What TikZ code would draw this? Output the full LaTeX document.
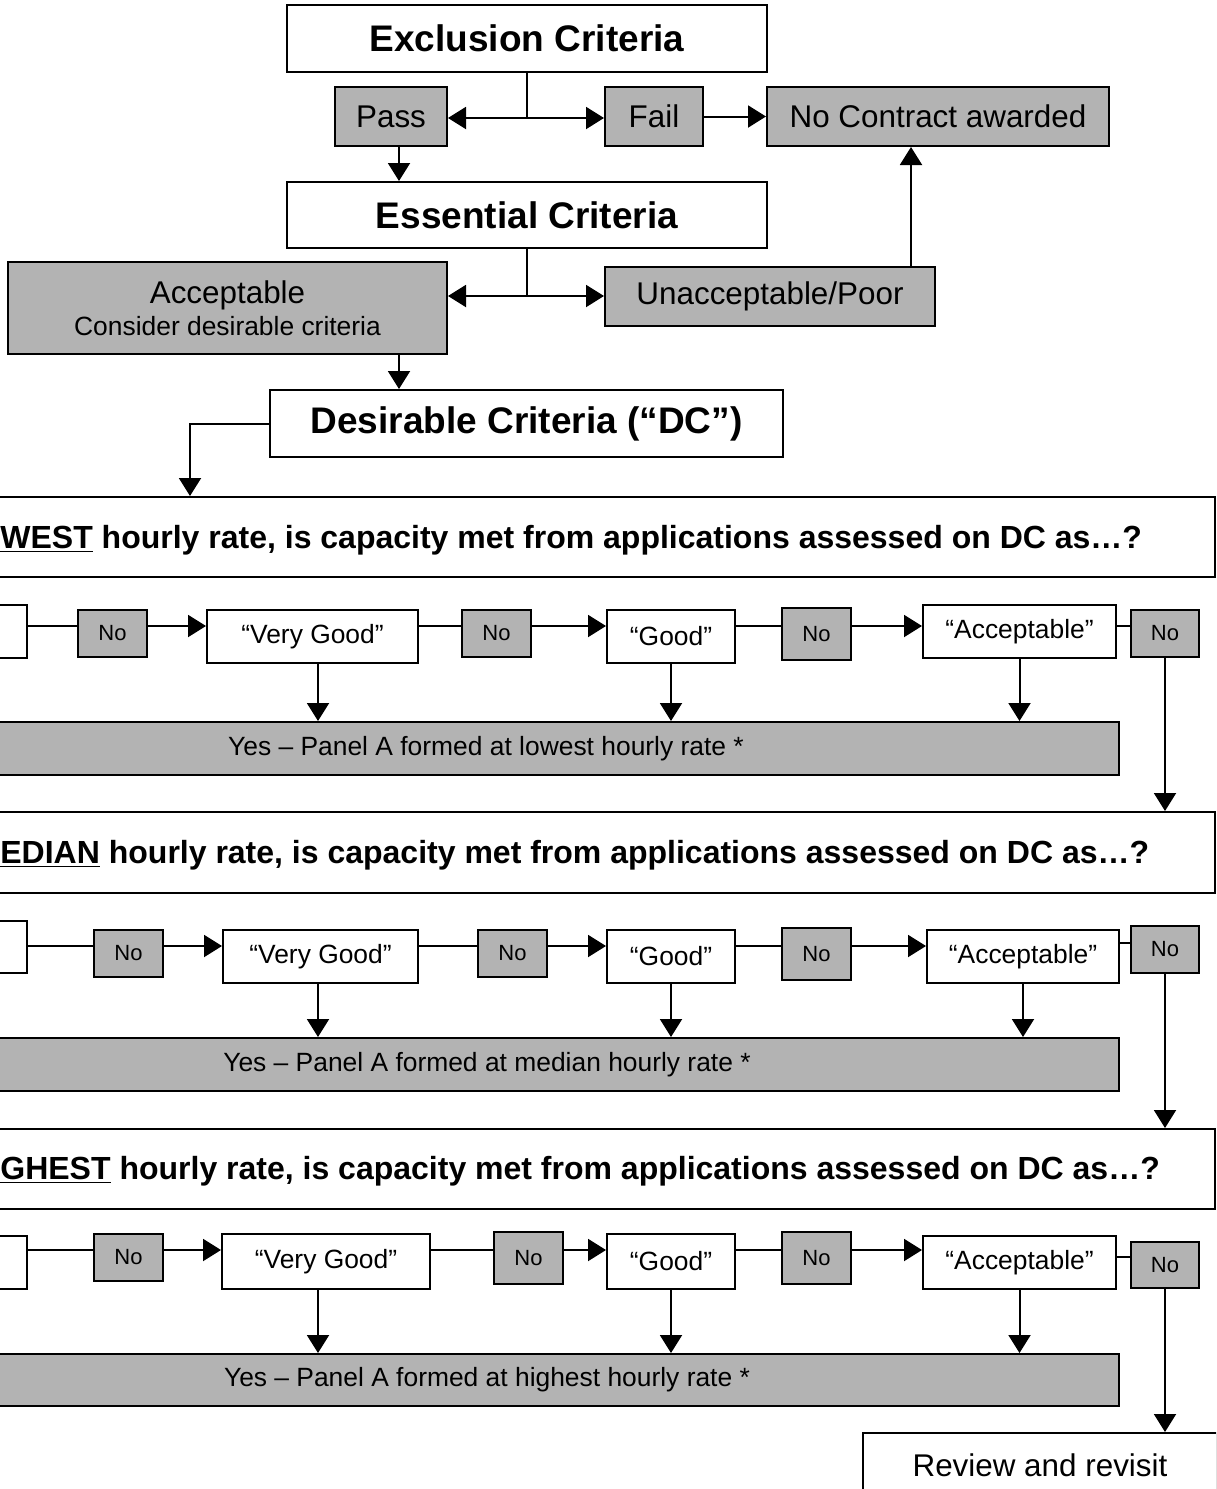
\documentclass[tikz,border=0pt]{standalone}
\usepackage{fontspec}
\setmainfont{Liberation Sans}
\usetikzlibrary{arrows.meta}
\definecolor{boxgray}{RGB}{179,179,179}
\tikzset{
  every node/.style={inner sep=0pt},
  wbox/.style={draw, line width=1pt, fill=white},
  gbox/.style={draw, line width=1pt, fill=boxgray},
  conn/.style={line width=1pt},
  arr/.style={line width=1pt, -{Triangle[length=9pt,width=11pt]}},
  big/.style={font=\fontsize{18.5}{22}\selectfont\bfseries},
  ques/.style={font=\fontsize{16}{19}\selectfont\bfseries},
  med/.style={font=\fontsize{15.7}{19}\selectfont},
  sml/.style={font=\fontsize{13.2}{16}\selectfont},
  nofont/.style={font=\fontsize{11}{13}\selectfont},
}
\newcommand\mybox[7]{\node[#1, minimum width={(#5-#3)*0.5pt}, minimum height={(#6-#4)*0.5pt}] (#2) at ({(#3+#5)/2},{(#4+#6)/2}) {#7};}
\begin{document}
\begin{tikzpicture}[x=0.5pt,y=-0.5pt]
\useasboundingbox (0,0) rectangle (1216,1489);
\clip (0,0) rectangle (1216,1489);
\fill[white] (0,0) rectangle (1216,1489);
% helper x-positions
\coordinate (x190) at (190,0);
\coordinate (x318) at (318,0);
\coordinate (x399) at (399,0);
\coordinate (x911) at (911,0);
% ---------- top part
\mybox{wbox,big}{ex}{287}{5}{767}{72}{Exclusion Criteria}
\mybox{gbox,med}{pass}{335}{87}{447}{146}{Pass}
\mybox{gbox,med}{fail}{605}{87}{703}{146}{Fail}
\mybox{gbox,med}{nca}{767}{87}{1109}{146}{No Contract awarded}
\mybox{wbox,big}{ess}{287}{182}{767}{248}{Essential Criteria}
\mybox{gbox,med,align=center}{acc}{8}{262}{447}{354}{Acceptable\\[-3pt]{\fontsize{13.2}{16}\selectfont Consider desirable criteria}}
\mybox{gbox,med}{unacc}{605}{267}{935}{326}{Unacceptable/Poor}
\mybox{wbox,big}{dc}{270}{390}{783}{457}{Desirable Criteria (“DC”)}

\coordinate (j1) at (527,118);
\draw[conn] (ex.south) -- (j1);
\draw[arr] (j1) -- (pass.east |- j1);
\draw[arr] (j1) -- (fail.west |- j1);
\draw[arr] (fail.east) -- (nca.west);
\draw[arr] (x399 |- pass.south) -- (x399 |- ess.north);
\coordinate (j2) at (527,296);
\draw[conn] (ess.south) -- (j2);
\draw[arr] (j2) -- (acc.east |- j2);
\draw[arr] (j2) -- (unacc.west |- j2);
\draw[arr] (x911 |- unacc.north) -- (x911 |- nca.south);
\draw[arr] (x399 |- acc.south) -- (x399 |- dc.north);

% ---------- question boxes
\mybox{wbox}{q1}{-200}{497}{1215}{577}{}
\node[ques, anchor=west] (q1t) at (0,540) {\underline{WEST} hourly rate, is capacity met from applications assessed on DC as…?};
\mybox{wbox}{q2}{-200}{812}{1215}{893}{}
\node[ques, anchor=west] (q2t) at (0,855) {\underline{EDIAN} hourly rate, is capacity met from applications assessed on DC as…?};
\mybox{wbox}{q3}{-200}{1129}{1215}{1209}{}
\node[ques, anchor=west] (q3t) at (0,1171) {\underline{GHEST} hourly rate, is capacity met from applications assessed on DC as…?};

\draw[arr] (dc.west) -| (x190 |- q1.north);

% ---------- row 1
\mybox{wbox}{L1}{-40}{605}{27}{658}{}
\mybox{gbox,nofont}{N11}{78}{610}{147}{657}{No}
\mybox{wbox,sml}{VG1}{207}{610}{418}{663}{“Very Good”}
\mybox{gbox,nofont}{N12}{462}{610}{531}{657}{No}
\mybox{wbox,sml}{G1}{607}{610}{735}{663}{“Good”}
\mybox{gbox,nofont}{N13}{782}{608}{851}{660}{No}
\mybox{wbox,sml}{A1}{923}{605}{1116}{658}{“Acceptable”}
\mybox{gbox,nofont}{N14}{1131}{610}{1199}{657}{No}
\mybox{gbox,sml}{Y1}{-147}{722}{1119}{775}{Yes – Panel A formed at lowest hourly rate *}
\coordinate (r1) at (0,626);
\draw[conn] (L1.east |- r1) -- (N11.west |- r1);
\draw[arr] (N11.east |- r1) -- (VG1.west |- r1);
\draw[conn] (VG1.east |- r1) -- (N12.west |- r1);
\draw[arr] (N12.east |- r1) -- (G1.west |- r1);
\draw[conn] (G1.east |- r1) -- (N13.west |- r1);
\draw[arr] (N13.east |- r1) -- (A1.west |- r1);
\draw[conn] (A1.east |- r1) -- (N14.west |- r1);
\draw[arr] (x318 |- VG1.south) -- (x318 |- Y1.north);
\draw[arr] (G1.south) -- (G1.south |- Y1.north);
\draw[arr] (A1.south) -- (A1.south |- Y1.north);
\draw[arr] (N14.south) -- (N14.south |- q2.north);

% ---------- row 2
\mybox{wbox}{L2}{-40}{921}{27}{973}{}
\mybox{gbox,nofont}{N21}{94}{930}{163}{977}{No}
\mybox{wbox,sml}{VG2}{223}{930}{418}{983}{“Very Good”}
\mybox{gbox,nofont}{N22}{478}{930}{547}{977}{No}
\mybox{wbox,sml}{G2}{607}{930}{735}{983}{“Good”}
\mybox{gbox,nofont}{N23}{782}{928}{851}{980}{No}
\mybox{wbox,sml}{A2}{927}{930}{1119}{983}{“Acceptable”}
\mybox{gbox,nofont}{N24}{1131}{926}{1199}{973}{No}
\mybox{gbox,sml}{Y2}{-145}{1038}{1119}{1091}{Yes – Panel A formed at median hourly rate *}
\coordinate (r2) at (0,946);
\coordinate (r2b) at (0,943);
\draw[conn] (L2.east |- r2) -- (N21.west |- r2);
\draw[arr] (N21.east |- r2) -- (VG2.west |- r2);
\draw[conn] (VG2.east |- r2) -- (N22.west |- r2);
\draw[arr] (N22.east |- r2) -- (G2.west |- r2);
\draw[conn] (G2.east |- r2) -- (N23.west |- r2);
\draw[arr] (N23.east |- r2) -- (A2.west |- r2);
\draw[conn] (A2.east |- r2b) -- (N24.west |- r2b);
\draw[arr] (x318 |- VG2.south) -- (x318 |- Y2.north);
\draw[arr] (G2.south) -- (G2.south |- Y2.north);
\draw[arr] (A2.south) -- (A2.south |- Y2.north);
\draw[arr] (N24.south) -- (N24.south |- q3.north);

% ---------- row 3
\mybox{wbox}{L3}{-40}{1236}{27}{1289}{}
\mybox{gbox,nofont}{N31}{94}{1234}{163}{1281}{No}
\mybox{wbox,sml}{VG3}{222}{1234}{430}{1289}{“Very Good”}
\mybox{gbox,nofont}{N32}{494}{1232}{563}{1284}{No}
\mybox{wbox,sml}{G3}{607}{1234}{735}{1289}{“Good”}
\mybox{gbox,nofont}{N33}{782}{1232}{851}{1284}{No}
\mybox{wbox,sml}{A3}{923}{1236}{1116}{1289}{“Acceptable”}
\mybox{gbox,nofont}{N34}{1131}{1242}{1199}{1288}{No}
\mybox{gbox,sml}{Y3}{-145}{1354}{1119}{1406}{Yes – Panel A formed at highest hourly rate *}
\mybox{wbox,med}{rev}{863}{1433}{1217}{1497}{Review and revisit}
\coordinate (r3) at (0,1250);
\coordinate (r3b) at (0,1257);
\draw[conn] (L3.east |- r3) -- (N31.west |- r3);
\draw[arr] (N31.east |- r3) -- (VG3.west |- r3);
\draw[conn] (VG3.east |- r3) -- (N32.west |- r3);
\draw[arr] (N32.east |- r3) -- (G3.west |- r3);
\draw[conn] (G3.east |- r3) -- (N33.west |- r3);
\draw[arr] (N33.east |- r3) -- (A3.west |- r3);
\draw[conn] (A3.east |- r3b) -- (N34.west |- r3b);
\draw[arr] (x318 |- VG3.south) -- (x318 |- Y3.north);
\draw[arr] (G3.south) -- (G3.south |- Y3.north);
\draw[arr] (A3.south) -- (A3.south |- Y3.north);
\draw[arr] (N34.south) -- (N34.south |- rev.north);
\end{tikzpicture}
\end{document}
